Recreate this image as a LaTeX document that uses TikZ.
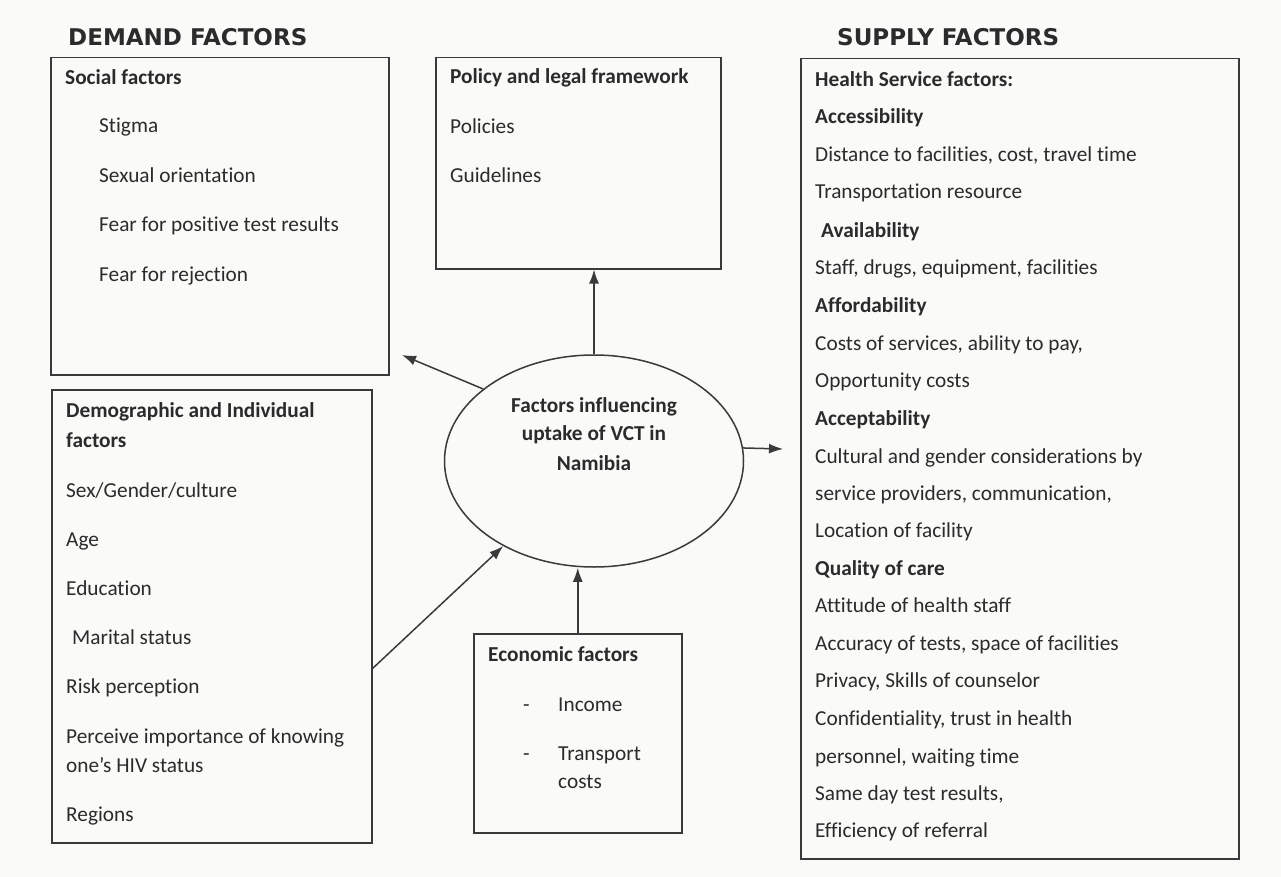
\documentclass[tikz,border=0pt]{standalone}
\usepackage{fontspec}
\setmainfont{Carlito}[Ligatures=NoCommon]
\newfontfamily\headfont{DejaVu Sans}
\usetikzlibrary{shapes.geometric,arrows.meta}
\definecolor{ink}{HTML}{2B2B2B}
\definecolor{linec}{HTML}{3A3A3A}
\definecolor{paper}{HTML}{FAFAF8}
\begin{document}
\begin{tikzpicture}[x=1pt,y=-1pt,
  box/.style={draw=linec, line width=1.5pt, rectangle, inner sep=0pt, anchor=north west},
  txt/.style={anchor=base west, inner sep=0pt, text=ink, font=\fontsize{21.3}{25}\selectfont},
  btxt/.style={anchor=base west, inner sep=0pt, text=ink, font=\bfseries\fontsize{21.3}{25}\selectfont},
  ctxt/.style={anchor=base, inner sep=0pt, text=ink, font=\bfseries\fontsize{21.3}{25}\selectfont},
  head/.style={anchor=base west, inner sep=0pt, text=ink, font=\headfont\bfseries\fontsize{23}{27}\selectfont},
  arr/.style={draw=linec, line width=1.5pt, -{Latex[length=14pt,width=10pt]}}]
\useasboundingbox[fill=paper] (0,0) rectangle (1281,877);

% headings
\node[head] (hdem) at (68,46) {DEMAND FACTORS};
\node[head] (hsup) at (837,46) {SUPPLY FACTORS};

% boxes
\node[box, minimum width=338, minimum height=317] (social) at (50,57) {};
\node[box, minimum width=285, minimum height=211] (policy) at (435,57) {};
\node[box, minimum width=438, minimum height=800] (supply) at (800,58) {};
\node[box, minimum width=320, minimum height=453] (demo) at (51,389) {};
\node[box, minimum width=208, minimum height=199] (econ) at (473,633) {};
\node[draw=linec, line width=1.5pt, ellipse, inner sep=0pt, minimum width=299, minimum height=212] (center) at (594,461) {};

% social factors
\node[btxt] (s0) at (65,85) {Social factors};
\node[txt] (s1) at (99,133) {Stigma};
\node[txt] (s2) at (99,183) {Sexual orientation};
\node[txt] (s3) at (99,232) {Fear for positive test results};
\node[txt] (s4) at (99,281) {Fear for rejection};

% policy
\node[btxt] (p0) at (450,84) {Policy and legal framework};
\node[txt] (p1) at (450,134) {Policies};
\node[txt] (p2) at (450,183) {Guidelines};

% demographic
\node[btxt] (d0) at (66,417) {Demographic and Individual};
\node[btxt] (d0b) at (66,447) {factors};
\node[txt] (d1) at (66,497) {Sex/Gender/culture};
\node[txt] (d2) at (66,546) {Age};
\node[txt] (d3) at (66,595) {Education};
\node[txt] (d4) at (72,644) {Marital status};
\node[txt] (d5) at (66,693) {Risk perception};
\node[txt] (d6) at (66,743) {Perceive importance of knowing};
\node[txt] (d6b) at (66,772) {one’s HIV status};
\node[txt] (d7) at (66,821) {Regions};

% economic
\node[btxt] (e0) at (488,661) {Economic factors};
\node[txt] (e1d) at (523,711) {-};
\node[txt] (e1) at (558,711) {Income};
\node[txt] (e2d) at (523,760) {-};
\node[txt] (e2) at (558,760) {Transport};
\node[txt] (e2b) at (558,788) {costs};

% centre text
\node[ctxt] (c1) at (594,412) {Factors influencing};
\node[ctxt] (c2) at (594,440) {uptake of VCT in};
\node[ctxt] (c3) at (594,470) {Namibia};

% supply
\node[btxt] (h0) at (815,87) {Health Service factors:};
\node[btxt] (h1) at (815,124) {Accessibility};
\node[txt] (h2) at (815,162) {Distance to facilities, cost, travel time};
\node[txt] (h3) at (815,199) {Transportation resource};
\node[btxt] (h4) at (821,237) {Availability};
\node[txt] (h5) at (815,274) {Staff, drugs, equipment, facilities};
\node[btxt] (h6) at (815,312) {Affordability};
\node[txt] (h7) at (815,350) {Costs of services, ability to pay,};
\node[txt] (h8) at (815,387) {Opportunity costs};
\node[btxt] (h9) at (815,425) {Acceptability};
\node[txt] (h10) at (815,463) {Cultural and gender considerations by};
\node[txt] (h11) at (815,500) {service providers, communication,};
\node[txt] (h12) at (815,537) {Location of facility};
\node[btxt] (h13) at (815,575) {Quality of care};
\node[txt] (h14) at (815,612) {Attitude of health staff};
\node[txt] (h15) at (815,650) {Accuracy of tests, space of facilities};
\node[txt] (h16) at (815,687) {Privacy, Skills of counselor};
\node[txt] (h17) at (815,725) {Confidentiality, trust in health};
\node[txt] (h18) at (815,763) {personnel, waiting time};
\node[txt] (h19) at (815,800) {Same day test results,};
\node[txt] (h20) at (815,837) {Efficiency of referral};

% connectors
\coordinate (tipsocial) at (402,355);
\coordinate (tipsupply) at (783,449);
\coordinate (dstart) at (372,669);
\draw[arr] (center.north) -- (center.north |- policy.south);
\draw[arr] (center.147) -- (tipsocial);
\draw[arr] (center.5) -- (tipsupply);
\draw[arr] (dstart) -- (center);
\draw[arr] (econ.north) -- (econ.north |- center.south);
\end{tikzpicture}
\end{document}
